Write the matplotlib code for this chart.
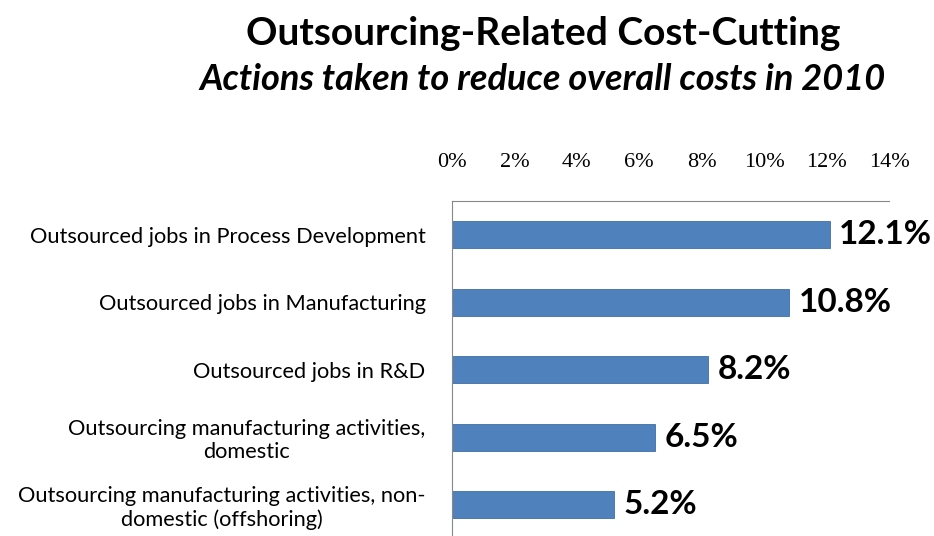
import matplotlib
matplotlib.use("Agg")
import matplotlib.pyplot as plt
from matplotlib.ticker import FuncFormatter

# data
categories = [
    "Outsourced jobs in Process Development",
    "Outsourced jobs in Manufacturing",
    "Outsourced jobs in R&D",
    "Outsourcing manufacturing activities,\ndomestic",
    "Outsourcing manufacturing activities, non-\ndomestic (offshoring)",
]
values = [12.1, 10.8, 8.2, 6.5, 5.2]
x_ticks = [0, 2, 4, 6, 8, 10, 12, 14]

bar_color = "#4F81BD"

fig = plt.figure(figsize=(9.34, 5.36), dpi=100)
ax = fig.add_axes([452 / 934, 1 - 538.5 / 536, 437 / 934, 337.5 / 536])

pos = list(range(len(categories)))
ax.barh(pos, values, height=0.4, color=bar_color, edgecolor="#3F6FA8", linewidth=0.6)
ax.set_ylim(len(categories) - 0.5, -0.5)
ax.set_xlim(0, 14)

# axis on top, no tick marks
ax.xaxis.tick_top()
ax.set_xticks(x_ticks)
ax.xaxis.set_major_formatter(FuncFormatter(lambda v, p: f"{v:.0f}%"))
ax.tick_params(axis="x", length=0, pad=21, labelsize=16)
for lab in ax.get_xticklabels():
    lab.set_fontfamily("Liberation Serif")

ax.set_yticks(pos)
ax.set_yticklabels(categories, fontsize=15.7, family="Lato", multialignment="center",
                   linespacing=1.2)
ax.tick_params(axis="y", length=0, pad=19)

for side in ["right", "bottom"]:
    ax.spines[side].set_visible(False)
ax.spines["top"].set_color("#888888")
ax.spines["left"].set_color("#888888")

# value labels
for p, v in zip(pos, values):
    ax.text(v + 0.3, p, f"{v:.1f}%", va="center", ha="left",
            fontsize=24, fontweight="bold", family="Lato")

fig.text(0.582, 0.937, "Outsourcing-Related Cost-Cutting", ha="center", va="center",
         fontsize=28, fontweight="bold", family="Lato")
fig.text(0.581, 0.851, "Actions taken to reduce overall costs in 2010", ha="center",
         va="center", fontsize=26, style="italic", fontweight="bold", family="Lato")

fig.savefig("out.png", dpi=100)
